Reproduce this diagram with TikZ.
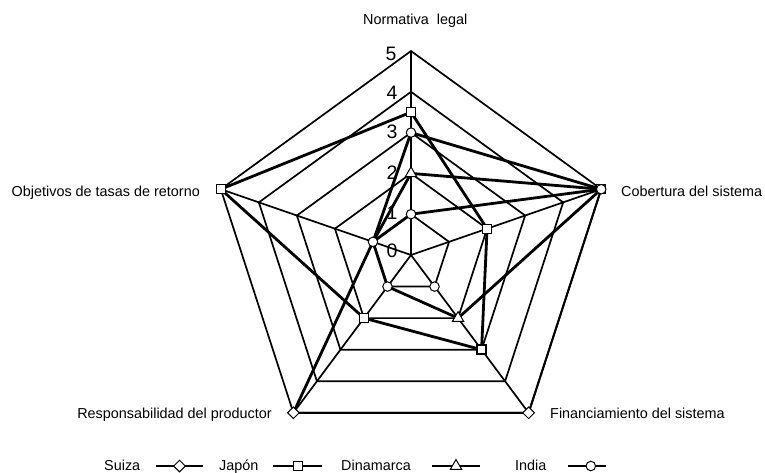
\documentclass[tikz,border=0pt]{standalone}
\usepackage{fontspec}
\setmainfont{Liberation Sans}
\usetikzlibrary{calc,shapes.geometric}
\begin{document}
\begin{tikzpicture}[x=1pt,y=-1pt,
  gridline/.style={line width=1.7pt, line join=miter},
  serie/.style={line width=2.8pt, line join=round},
  edgeserie/.style={line width=2pt, line join=miter},
  lab/.style={font=\fontsize{14.4}{16}\selectfont, inner sep=0pt},
  num/.style={font=\fontsize{19.5}{22}\selectfont, inner sep=0pt},
  msq/.style={draw, fill=white, line width=1pt, rectangle, minimum size=9pt, inner sep=0pt},
  mci/.style={draw, fill=white, line width=1pt, circle, minimum size=9.5pt, inner sep=0pt},
  mdi/.style={draw, fill=white, line width=1pt, diamond, minimum size=12pt, inner sep=0pt},
  mtr/.style={draw, fill=white, line width=1pt, regular polygon, regular polygon sides=3, minimum size=13pt, inner sep=0pt},
  legline/.style={line width=1.4pt}
]
\useasboundingbox (0,0) rectangle (765,472);
% axes geometry
\coordinate (O) at (411,255);
\coordinate (A1) at (411,51);
\coordinate (A2) at (601.2,189.2);
\coordinate (A3) at (528.6,412.8);
\coordinate (A4) at (293.4,412.8);
\coordinate (A5) at (220.8,189.2);
% scale numbers
\node[num] (n5) at (391,54) {5};
\node[num] (n4) at (392,93) {4};
\node[num] (n3) at (392,132) {3};
\node[num] (n2) at (392,173) {2};
\node[num] (n1) at (392,213) {1};
\node[num] (n0) at (392,251) {0};
% grid
\foreach \k in {1,...,5}{
  \draw[gridline] ($(O)!\k/5!(A1)$) -- ($(O)!\k/5!(A2)$) -- ($(O)!\k/5!(A3)$) -- ($(O)!\k/5!(A4)$) -- ($(O)!\k/5!(A5)$) -- cycle;
}
\foreach \i in {1,...,5}{
  \draw[gridline] (O) -- (A\i);
}
% data points
\coordinate (T35) at ($(O)!0.7!(A1)$);
\coordinate (T3) at ($(O)!0.6!(A1)$);
\coordinate (T2) at ($(O)!0.4!(A1)$);
\coordinate (T1) at ($(O)!0.2!(A1)$);
\coordinate (R2) at ($(O)!0.4!(A2)$);
\coordinate (BR1) at ($(O)!0.2!(A3)$);
\coordinate (BR2) at ($(O)!0.4!(A3)$);
\coordinate (BR3) at ($(O)!0.6!(A3)$);
\coordinate (BL1) at ($(O)!0.2!(A4)$);
\coordinate (BL2) at ($(O)!0.4!(A4)$);
\coordinate (L1) at ($(O)!0.2!(A5)$);
% series
\draw[edgeserie] (A2) -- (A3) -- (A4);                          % Suiza (outer part)
\draw[serie] (A4) -- (L1) -- (T3) -- (A2);                      % Suiza
\draw[serie] (T35) -- (R2) -- (BR3) -- (BL2) -- (A5) -- cycle;  % Japon
\draw[serie] (T2) -- (A2) -- (BR2) -- (BL1) -- (L1) -- cycle;   % Dinamarca
\draw[serie] (L1) -- (T1) -- (A2);                              % India
% markers
\node[mdi] (mBR5) at (A3) {};
\node[mdi] (mBL5) at (A4) {};
\node[msq] (mT35) at (T35) {};
\node[msq] (mR2) at (R2) {};
\node[msq, line width=1.8pt] (mBR3) at (BR3) {};
\node[msq] (mBL2) at (BL2) {};
\node[msq] (mL5) at (A5) {};
\node[msq] (mR5s) at (A2) {};
\node[mtr] (mT2) at (T2) {};
\node[mtr] (mBR2) at (BR2) {};
\node[mci] (mT3) at (T3) {};
\node[mci] (mT1) at (T1) {};
\node[mci] (mR5) at (A2) {};
\node[mci] (mBR1) at (BR1) {};
\node[mci] (mBL1) at (BL1) {};
\node[mci] (mL1) at (L1) {};
% axis labels
\node[lab, anchor=base west] (l1) at (363,24) {Normativa\ \ legal};
\node[lab, anchor=base west] (l2) at (621,196) {Cobertura del sistema};
\node[lab, anchor=base west] (l3) at (550,418) {Financiamiento del sistema};
\node[lab, anchor=base east] (l4) at (272,418) {Responsabilidad del productor};
\node[lab, anchor=base east] (l5) at (200,196) {Objetivos de tasas de retorno};
% legend
\node[lab, anchor=base west] (g1) at (104,470) {Suiza};
\coordinate (g1a) at (156,466); \coordinate (g1b) at (203,466);
\draw[legline] (g1a) -- (g1b);
\node[mdi] (g1m) at ($(g1a)!0.5!(g1b)$) {};
\node[lab, anchor=base west] (g2) at (219,470) {Japón};
\coordinate (g2a) at (273,466); \coordinate (g2b) at (322,466);
\draw[legline] (g2a) -- (g2b);
\node[msq] (g2m) at ($(g2a)!0.5!(g2b)$) {};
\node[lab, anchor=base west] (g3) at (341,470) {Dinamarca};
\coordinate (g3a) at (432,466); \coordinate (g3b) at (480,466);
\draw[legline] (g3a) -- (g3b);
\node[mtr] (g3m) at ($(g3a)!0.5!(g3b)$) {};
\node[lab, anchor=base west] (g4) at (515,470) {India};
\coordinate (g4a) at (568,466); \coordinate (g4b) at (606,466);
\draw[legline] (g4a) -- (g4b);
\node[mci] (g4m) at ($(g4a)!0.6!(g4b)$) {};
\end{tikzpicture}
\end{document}
